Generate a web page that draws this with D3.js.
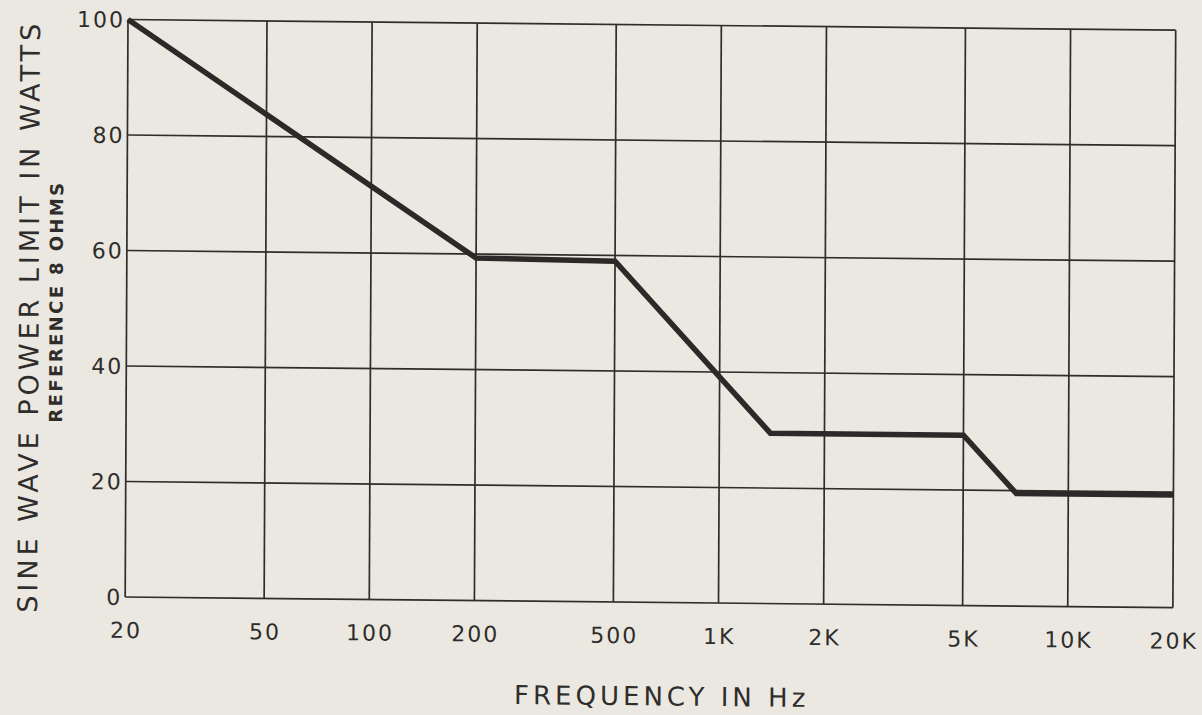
<!DOCTYPE html>
<html>
<head>
<meta charset="utf-8">
<script src="https://cdn.jsdelivr.net/npm/d3@7"></script>
<style>
  html, body { margin: 0; padding: 0; background: #ebe8e1; }
  svg { display: block; }
  text { font-family: "DejaVu Sans", sans-serif; fill: #2f2d2b; }
</style>
</head>
<body>
<div id="container"></div>
<script>
// curve
var freqs = [20, 200, 500, 1400, 5000, 7100, 20000],
    watts = [100, 59.3, 59, 29.5, 29.5, 19.5, 19.5],
    xTicks = [20, 50, 100, 200, 500, 1000, 2000, 5000, 10000, 20000],
    xLabels = ['20', '50', '100', '200', '500', '1K', '2K', '5K', '10K', '20K'],
    yTicks = [0, 20, 40, 60, 80, 100];

var width = 1202,
    height = 715,
    plotW = 1047.7,
    plotH = 577.5,
    ink = '#2f2d2b';

var svg = d3.select('#container').append('svg')
  .attr('width', width)
  .attr('height', height);

svg.append('rect')
  .attr('width', width)
  .attr('height', height)
  .attr('fill', '#ebe8e1');

// the scan is slightly skewed, so the whole chart sits in a skewed group
var g = svg.append('g')
  .attr('transform', 'matrix(1,0.0102,-0.0049,1,128,19.5)');

var x = d3.scaleLog().domain([20, 20000]).range([0, plotW]);
var y = d3.scaleLinear().domain([0, 100]).range([plotH, 0]);

// grid
g.selectAll('line.vgrid')
  .data(xTicks)
  .enter()
  .append('line')
  .attr('class', 'vgrid')
  .attr('x1', function (d) { return x(d); })
  .attr('x2', function (d) { return x(d); })
  .attr('y1', 0)
  .attr('y2', plotH)
  .attr('stroke', ink)
  .attr('stroke-width', 1.7);

g.selectAll('line.hgrid')
  .data(yTicks)
  .enter()
  .append('line')
  .attr('class', 'hgrid')
  .attr('x1', 0)
  .attr('x2', plotW)
  .attr('y1', function (d) { return y(d); })
  .attr('y2', function (d) { return y(d); })
  .attr('stroke', ink)
  .attr('stroke-width', 1.7);

// curve
var line = d3.line()
  .x(function (d, i) { return x(freqs[i]); })
  .y(function (d) { return y(d); });

g.append('path')
  .datum(watts)
  .attr('d', line)
  .attr('fill', 'none')
  .attr('stroke', '#2b2a29')
  .attr('stroke-width', 5.5)
  .attr('stroke-linejoin', 'miter');

// tick labels
g.selectAll('text.xlab')
  .data(xTicks)
  .enter()
  .append('text')
  .attr('class', 'xlab')
  .attr('x', function (d) { return x(d) + 1; })
  .attr('y', plotH + 41)
  .attr('text-anchor', 'middle')
  .style('font-size', '22px')
  .style('letter-spacing', '2px')
  .text(function (d, i) { return xLabels[i]; });

g.selectAll('text.ylab')
  .data(yTicks)
  .enter()
  .append('text')
  .attr('class', 'ylab')
  .attr('x', -3)
  .attr('y', function (d) { return y(d) + 8; })
  .attr('text-anchor', 'end')
  .style('font-size', '22px')
  .style('letter-spacing', '2px')
  .text(function (d) { return d; });

// axis titles
g.append('text')
  .attr('transform', 'translate(-88,' + (plotH / 2 + 9) + ') rotate(-90)')
  .attr('text-anchor', 'middle')
  .style('font-size', '27px')
  .style('letter-spacing', '4px')
  .text('SINE WAVE POWER LIMIT IN WATTS');

g.append('text')
  .attr('transform', 'translate(-64,' + (plotH / 2 - 6) + ') rotate(-90)')
  .attr('text-anchor', 'middle')
  .style('font-size', '18px')
  .style('font-weight', '600')
  .style('letter-spacing', '2.4px')
  .text('REFERENCE 8 OHMS');

g.append('text')
  .attr('x', 537)
  .attr('y', plotH + 103)
  .attr('text-anchor', 'middle')
  .style('font-size', '26px')
  .style('letter-spacing', '4px')
  .text('FREQUENCY IN Hz');
</script>
</body>
</html>
